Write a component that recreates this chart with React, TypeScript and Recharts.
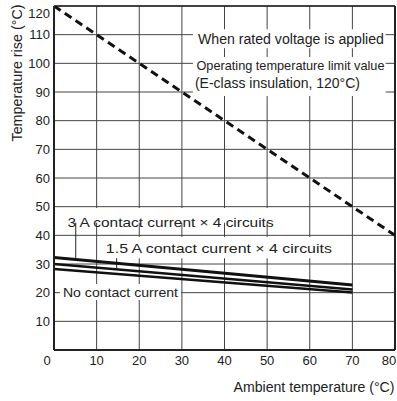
import * as React from 'react'
import { LineChart, Line, XAxis, YAxis, CartesianGrid, ReferenceLine, ReferenceArea } from 'recharts'

// ambient temperature (°C) vs temperature rise (°C)
const ambient = [0, 70]
const rise3A = [32.3, 22.7]
const rise15A = [30, 21.1]
const riseNoCurrent = [28.3, 20.1]
const limitAmbient = [0, 80]
const limitRise = [120, 40]

const xTicks = [0, 10, 20, 30, 40, 50, 60, 70, 80]
const yTicks = [10, 20, 30, 40, 50, 60, 70, 80, 90, 100, 110, 120]

const toPoints = (xs: number[], ys: number[]) => xs.map((x, i) => ({ x, y: ys[i] }))

const FONT = '"Liberation Sans", Arial, Helvetica, sans-serif'
const INK = '#222'

function XTick({ x, payload }: any) {
  // first and last labels are nudged inward, like the original
  const dx = payload.value === 0 ? -7 : payload.value === 80 ? -6 : 0
  return (
    <text x={x + dx} y={365} textAnchor="middle" fontSize={13} fill={INK} fontFamily={FONT}>
      {payload.value}
    </text>
  )
}

function YTick({ y, payload }: any) {
  const dy = payload.value === 120 ? 7 : 0
  return (
    <text x={50} y={y + dy + 4.5} textAnchor="end" fontSize={13} fill={INK} fontFamily={FONT}>
      {payload.value}
    </text>
  )
}

type BoxLine = { text: string; dx: number; dy: number; len: number; size: number }

function boxText(lines: BoxLine[]) {
  return (props: any) => {
    const vb = props.viewBox || {}
    return (
      <g>
        {lines.map((l, i) => (
          <text key={i} x={vb.x + l.dx} y={vb.y + l.dy} fontSize={l.size} fill={INK} fontFamily={FONT}
            textLength={l.len} lengthAdjust="spacingAndGlyphs">
            {l.text}
          </text>
        ))}
      </g>
    )
  }
}

export default function App() {
  return (
    <div style={{ position: 'absolute', left: 0, top: 0, width: 397, height: 401, overflow: 'hidden' }}>
      <LineChart width={397} height={401} margin={{ top: 6, right: 2, bottom: 0, left: 0 }} style={{ display: 'block' }}>
        <CartesianGrid stroke="#444" strokeWidth={1} />
        <XAxis
          dataKey="x"
          type="number"
          domain={[0, 80]}
          ticks={xTicks}
          interval={0}
          height={51}
          tickLine={false}
          axisLine={{ stroke: INK, strokeWidth: 2 }}
          tick={<XTick />}
          allowDataOverflow
        />
        <YAxis
          type="number"
          domain={[0, 120]}
          ticks={yTicks}
          interval={0}
          width={54}
          tickLine={false}
          axisLine={{ stroke: INK, strokeWidth: 2 }}
          tick={<YTick />}
          allowDataOverflow
          label={{
            content: () => (
              <text
                x={17}
                y={73}
                transform="rotate(-90 17 73)"
                textAnchor="middle"
                dominantBaseline="central"
                fontSize={14}
                fill={INK}
                fontFamily={FONT}
                textLength={137}
                lengthAdjust="spacingAndGlyphs"
              >
                Temperature rise (°C)
              </text>
            ),
          }}
        />
        <ReferenceLine x={80} stroke={INK} strokeWidth={2} />
        <ReferenceLine y={120} stroke={INK} strokeWidth={1.5} />

        <ReferenceArea x1={32.6} x2={77.8} y1={105.3} y2={111.9} fill="#fff" fillOpacity={1} stroke="none"
          label={{ content: boxText([{ text: 'When rated voltage is applied', dx: 5, dy: 15, len: 186, size: 14 }]) }} />
        <ReferenceArea x1={32.6} x2={77.8} y1={88.6} y2={102.2} fill="#fff" fillOpacity={1} stroke="none"
          label={{
            content: boxText([
              { text: 'Operating temperature limit value', dx: 3.5, dy: 13, len: 188, size: 13 },
              { text: '(E-class insulation, 120°C)', dx: 2, dy: 31.3, len: 165, size: 14 },
            ]),
          }} />
        <ReferenceArea x1={1.9} x2={53} y1={44.4} y2={49.5} fill="#fff" fillOpacity={1} stroke="none"
          label={{ content: boxText([{ text: '3 A contact current × 4 circuits', dx: 5.5, dy: 18.7, len: 206, size: 13.5 }]) }} />
        <ReferenceArea x1={11} x2={64.8} y1={32} y2={39.4} fill="#fff" fillOpacity={1} stroke="none"
          label={{ content: boxText([{ text: '1.5 A contact current × 4 circuits', dx: 5, dy: 16.3, len: 226, size: 13.5 }]) }} />
        <ReferenceArea x1={1.4} x2={29.8} y1={17.4} y2={23} fill="#fff" fillOpacity={1} stroke="none"
          label={{ content: boxText([{ text: 'No contact current', dx: 3, dy: 12.7, len: 115, size: 13.5 }]) }} />

        <ReferenceLine segment={[{ x: 5.1, y: 44.4 }, { x: 5.1, y: 31.6 }]} stroke={INK} strokeWidth={1} />
        <ReferenceLine segment={[{ x: 14.7, y: 32 }, { x: 14.7, y: 28.1 }]} stroke={INK} strokeWidth={1} />

        <Line data={toPoints(limitAmbient, limitRise)} dataKey="y" stroke="#111" strokeWidth={3}
          strokeDasharray="8 5" dot={false} isAnimationActive={false} />
        <Line data={toPoints(ambient, rise3A)} dataKey="y" stroke="#111" strokeWidth={3}
          dot={false} isAnimationActive={false} />
        <Line data={toPoints(ambient, rise15A)} dataKey="y" stroke="#111" strokeWidth={2.5}
          dot={false} isAnimationActive={false} />
        <Line data={toPoints(ambient, riseNoCurrent)} dataKey="y" stroke="#111" strokeWidth={2.5}
          dot={false} isAnimationActive={false} />

        <text x={233.5} y={392} fontSize={14} fill={INK} fontFamily={FONT}
          textLength={161} lengthAdjust="spacingAndGlyphs">
          Ambient temperature (°C)
        </text>
      </LineChart>
    </div>
  )
}
